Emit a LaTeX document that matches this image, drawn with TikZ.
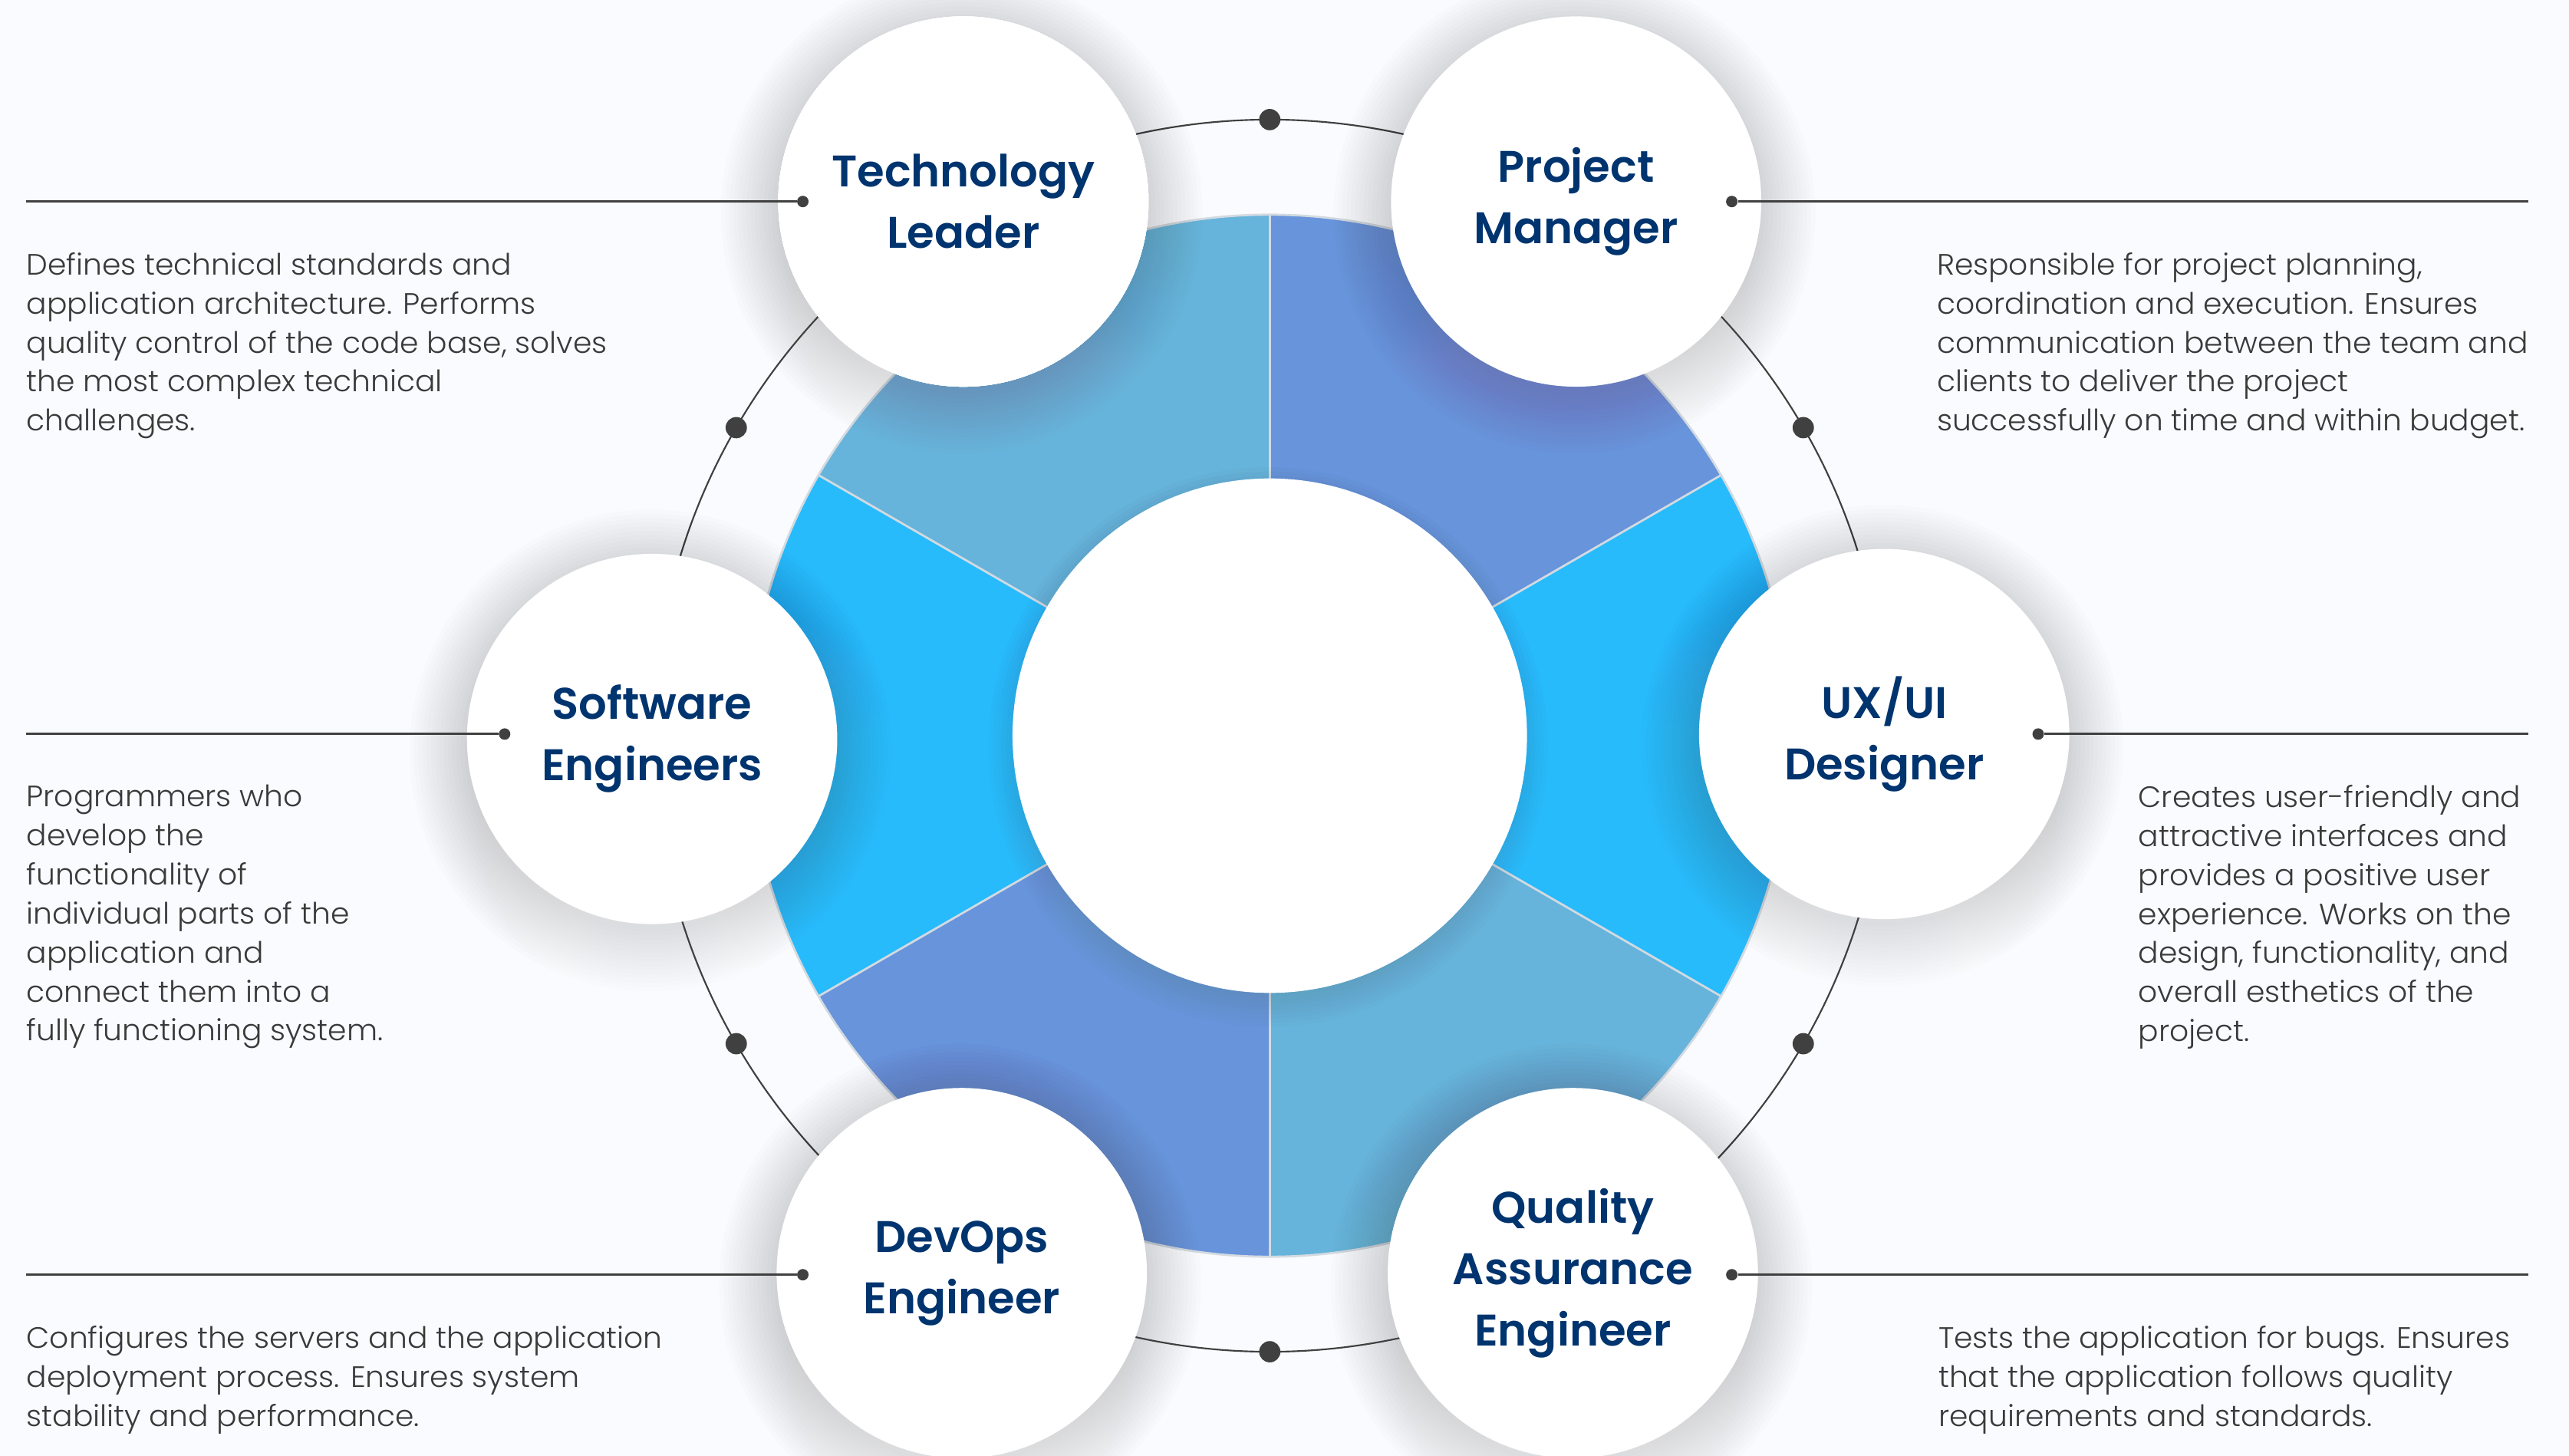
\documentclass[tikz,border=0pt]{standalone}
\usepackage{fontspec}
\setmainfont{Poppins}
\newfontfamily\titlefont{Poppins}[UprightFont=* SemiBold, FakeStretch=1.0]
\newfontfamily\bodyfont{Poppins}[UprightFont=* Light, FakeStretch=1.02]
\usetikzlibrary{calc}
\definecolor{bg}{HTML}{FAFBFE}
\definecolor{navy}{HTML}{00346F}
\definecolor{wsteel}{HTML}{66B4DB}
\definecolor{wmed}{HTML}{6794DB}
\definecolor{wbright}{HTML}{27BBFC}
\definecolor{sep}{HTML}{D3DAE1}
\definecolor{dark}{HTML}{404040}
\definecolor{txt}{HTML}{3A3A3A}
\definecolor{shade}{HTML}{1C2440}
\newcommand\mkshadow[4]{% center, radius, steps, opacity
  \foreach \k in {1,...,#3}
    \fill[shade, fill opacity=#4] ($(#1)+(-1,7)$) circle[radius=#2+2.6*\k];}
\begin{document}
\begin{tikzpicture}[x=1pt,y=-1pt,
 role/.style={circle, fill=white, minimum size=226pt, inner sep=0pt, align=center,
   font=\titlefont\fontsize{27}{37.5}\selectfont, text=navy},
 hub/.style={circle, fill=white, minimum size=314pt, inner sep=0pt},
 orbdot/.style={circle, fill=dark, minimum size=13pt, inner sep=0pt},
 pin/.style={circle, fill=dark, minimum size=7pt, inner sep=0pt},
 desc/.style={anchor=north west, inner sep=0pt, align=left, text=txt,
   font=\bodyfont\fontsize{18}{23.8}\selectfont},
 lead/.style={draw=dark, line width=1.4pt},
 sepline/.style={draw=sep, line width=1.3pt},
]
\useasboundingbox (0,0) rectangle (1568,888.6);
\fill[bg] (0,0) rectangle (1568,888.6);
\coordinate (C) at (775,449);
% wedges (code angle = - visual angle)
\fill[wsteel]  (C) -- ++(-150:318) arc[start angle=-150, end angle=-90, radius=318] -- cycle;
\fill[wmed]    (C) -- ++(-90:318)  arc[start angle=-90,  end angle=-30, radius=318] -- cycle;
\fill[wbright] (C) -- ++(-30:318)  arc[start angle=-30,  end angle=30,  radius=318] -- cycle;
\fill[wsteel]  (C) -- ++(30:318)   arc[start angle=30,   end angle=90,  radius=318] -- cycle;
\fill[wmed]    (C) -- ++(90:318)   arc[start angle=90,   end angle=150, radius=318] -- cycle;
\fill[wbright] (C) -- ++(150:318)  arc[start angle=150,  end angle=210, radius=318] -- cycle;
\foreach \a in {-150,-90,-30,30,90,150}
  \draw[sepline] ($(C)+(\a:157)$) -- ($(C)+(\a:318)$);
\draw[sepline] (C) circle[radius=318];
\mkshadow{C}{150}{8}{0.012}
\node[hub] (hub) at (C) {};
% orbit
\draw[dark, line width=1pt] (C) circle[radius=376];
\foreach \a/\n in {-90/o1,-30/o2,30/o3,90/o4,150/o5,-150/o6}
  \node[orbdot] (\n) at ($(C)+(\a:376)$) {};
% role circles
\coordinate (ctl) at (588,123);
\coordinate (cpm) at (962,123);
\coordinate (cux) at (1150,448);
\coordinate (cqa) at (960,777);
\coordinate (cdo) at (587,777);
\coordinate (cse) at (398,451);
\foreach \c in {ctl,cpm,cux,cqa,cdo,cse}
  \mkshadow{\c}{108}{15}{0.008}
\node[role] (tl) at (ctl) {Technology\\Leader};
\node[role] (pm) at (cpm) {Project\\Manager};
\node[role] (ux) at (cux) {UX/UI\\Designer};
\node[role] (qa) at (cqa) {Quality\\Assurance\\Engineer};
\node[role] (do) at (cdo) {DevOps\\Engineer};
\node[role] (se) at (cse) {Software\\Engineers};
% leader lines
\coordinate (tlL) at (16,123);  \node[pin] (tlP) at (490,123) {};
\coordinate (pmR) at (1543,123); \node[pin] (pmP) at (1057,123) {};
\coordinate (uxR) at (1543,448); \node[pin] (uxP) at (1244,448) {};
\coordinate (seL) at (16,448);  \node[pin] (seP) at (308,448) {};
\coordinate (doL) at (16,778);  \node[pin] (doP) at (490,778) {};
\coordinate (qaR) at (1543,778); \node[pin] (qaP) at (1057,778) {};
\draw[lead] (tlL) -- (tlP);
\draw[lead] (pmP) -- (pmR);
\draw[lead] (uxP) -- (uxR);
\draw[lead] (seL) -- (seP);
\draw[lead] (doL) -- (doP);
\draw[lead] (qaP) -- (qaR);
% descriptions
\node[desc] (tlD) at (16,154) {Defines technical standards and\\application architecture. Performs\\quality control of the code base, solves\\the most complex technical\\challenges.};
\node[desc] (pmD) at (1182,154) {Responsible for project planning,\\coordination and execution. Ensures\\communication between the team and\\clients to deliver the project\\successfully on time and within budget.};
\node[desc] (seD) at (16,479) {Programmers who\\develop the\\functionality of\\individual parts of the\\application and\\connect them into a\\fully functioning system.};
\node[desc] (uxD) at (1305,479) {Creates user-friendly and\\attractive interfaces and\\provides a positive user\\experience. Works on the\\design, functionality, and\\overall esthetics of the\\project.};
\node[desc] (doD) at (16,809) {Configures the servers and the application\\deployment process. Ensures system\\stability and performance.};
\node[desc] (qaD) at (1183,809) {Tests the application for bugs. Ensures\\that the application follows quality\\requirements and standards.};
\end{tikzpicture}
\end{document}
